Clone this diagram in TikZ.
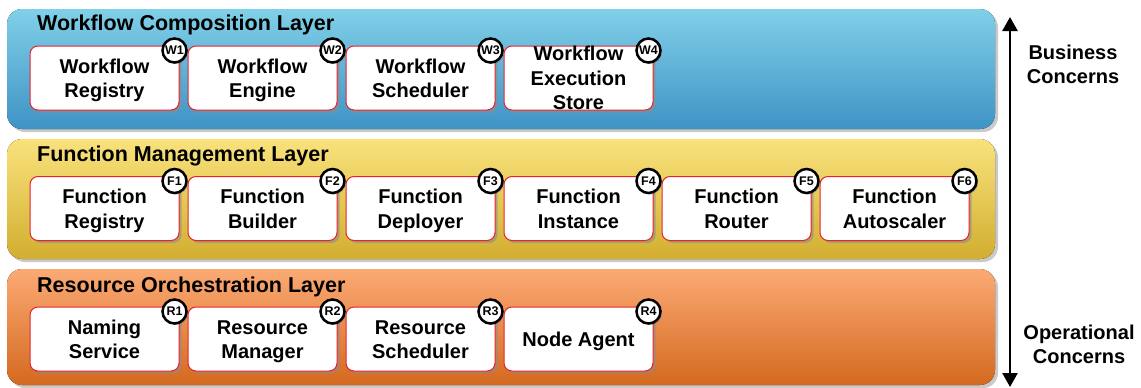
\documentclass[tikz,border=0pt]{standalone}
\usepackage{fontspec}
\setmainfont{Liberation Sans}
\usetikzlibrary{shadows,arrows.meta}

\definecolor{bluetop}{HTML}{80D0E8}
\definecolor{bluebot}{HTML}{3F93C5}
\definecolor{yeltop}{HTML}{F9E27C}
\definecolor{yelbot}{HTML}{D2AE30}
\definecolor{ortop}{HTML}{FBAA74}
\definecolor{orbot}{HTML}{D4691F}
\definecolor{boxedge}{HTML}{E8222A}

% one text line of a component box: cap height only, descenders ignored
\newcommand\capline[1]{\smash{#1}\rule{0pt}{14.5pt}}

\tikzset{
  layer/.style={rounded corners=15pt, draw=none,
    drop shadow={shadow xshift=3pt, shadow yshift=-3pt, fill=black!35, opacity=.6}},
  layertitle/.style={anchor=base west, inner sep=0pt,
    font=\fontsize{21.5}{24}\selectfont\bfseries},
  comp/.style={draw=boxedge, line width=1pt, fill=white, rounded corners=8pt,
    minimum width=149pt, minimum height=64pt, inner sep=0pt, align=center,
    font=\fontsize{20}{24.5}\selectfont\bfseries,
    drop shadow={shadow xshift=2.5pt, shadow yshift=-2.5pt, fill=black!45, opacity=.6}},
  badge/.style={circle, draw=black, line width=2.5pt, fill=white, minimum size=24pt,
    inner sep=0pt, font=\fontsize{12.5}{13}\selectfont\bfseries,
    drop shadow={shadow xshift=1.5pt, shadow yshift=-1.5pt, fill=black!50, opacity=.6}},
  side/.style={align=center, font=\fontsize{20}{24}\selectfont\bfseries}
}

\begin{document}
\begin{tikzpicture}[x=1pt, y=-1pt]
\useasboundingbox (0,0) rectangle (1141,388);

% three layer bands
\fill[layer, top color=bluetop, bottom color=bluebot] (7,9) rectangle (995,129);
\fill[layer, top color=yeltop, bottom color=yelbot] (7,139) rectangle (995,259);
\fill[layer, top color=ortop, bottom color=orbot] (7,269) rectangle (995,385);

\node[layertitle] (tw) at (37,30) {Workflow Composition Layer};
\node[layertitle] (tf) at (37,161) {Function Management Layer};
\node[layertitle] (tr) at (37,292) {Resource Orchestration Layer};

% workflow layer components
\foreach \txt [count=\k] in {{\capline{Workflow}\\\capline{Registry}},
    {\capline{Workflow}\\\capline{Engine}},
    {\capline{Workflow}\\\capline{Scheduler}},
    {\capline{Workflow}\\\capline{Execution}\\\capline{Store}}} {
  \node[comp] (w\k) at (104.5+158*\k-158,78) {\txt};
}
\foreach \k in {1,...,4} {
  \node[badge] (bw\k) at ([xshift=-5pt,yshift=-5pt]w\k.north east) {W\k};
}

% function layer components
\foreach \txt [count=\k] in {{\capline{Function}\\\capline{Registry}},
    {\capline{Function}\\\capline{Builder}},
    {\capline{Function}\\\capline{Deployer}},
    {\capline{Function}\\\capline{Instance}},
    {\capline{Function}\\\capline{Router}},
    {\capline{Function}\\\capline{Autoscaler}}} {
  \node[comp] (f\k) at (104.5+158*\k-158,208.5) {\txt};
}
\foreach \k in {1,...,6} {
  \node[badge] (bf\k) at ([xshift=-5pt,yshift=-5pt]f\k.north east) {F\k};
}

% resource layer components
\foreach \txt [count=\k] in {{\capline{Naming}\\\capline{Service}},
    {\capline{Resource}\\\capline{Manager}},
    {\capline{Resource}\\\capline{Scheduler}},
    {\capline{Node Agent}}} {
  \node[comp] (r\k) at (104.5+158*\k-158,339) {\txt};
}
\foreach \k in {1,...,4} {
  \node[badge] (br\k) at ([xshift=-5pt,yshift=-5pt]r\k.north east) {R\k};
}

% concerns axis
\coordinate (atop) at (1010,17);
\coordinate (abot) at (1010,387);
\draw[line width=2.6pt, {Triangle[length=14pt,width=15pt]}-{Triangle[length=14pt,width=15pt]}] (atop) -- (abot);
\node[side] (biz) at (1073,64) {Business\\Concerns};
\node[side] (ops) at (1079,344) {Operational\\Concerns};
\end{tikzpicture}
\end{document}
